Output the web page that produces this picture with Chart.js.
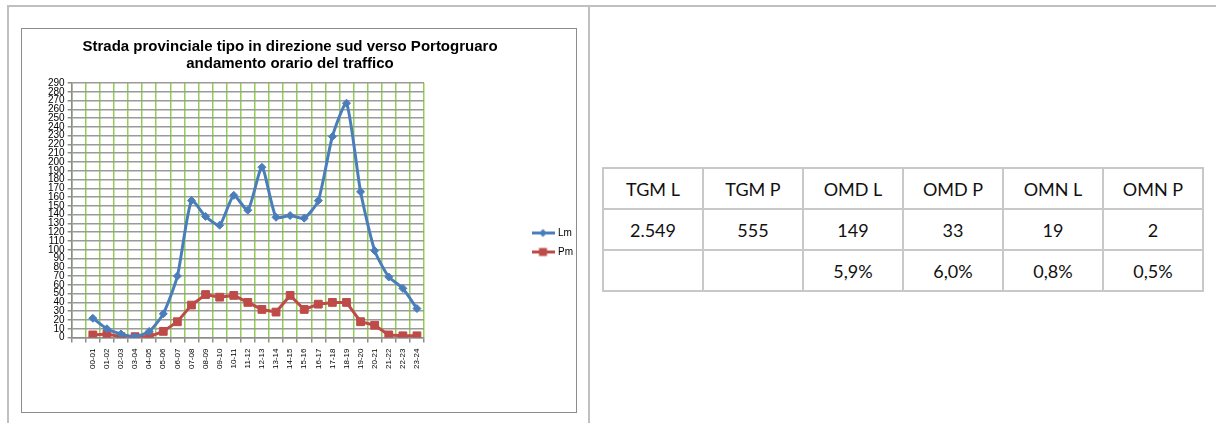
<!DOCTYPE html>
<html>
<head>
<meta charset="utf-8">
<script src="https://cdn.jsdelivr.net/npm/chart.js@4.4.1/dist/chart.umd.min.js"></script>
<style>
  html, body { margin: 0; padding: 0; background: #fff; }
  body { width: 1216px; height: 423px; position: relative; overflow: hidden; }
  .line-top { position: absolute; left: 7px; top: 5px; width: 1209px; height: 2px; background: #c0c0c0; }
  .line-left { position: absolute; left: 7px; top: 5px; width: 2px; height: 418px; background: #c0c0c0; }
  .line-mid { position: absolute; left: 588px; top: 5px; width: 2px; height: 418px; background: #c0c0c0; }
  .chart-box { position: absolute; left: 21px; top: 28px; width: 554px; height: 383px; border: 1px solid #8c8c8c; }
  #chart { display: block; }
  #stats { position: absolute; left: 602px; top: 167px; border-collapse: collapse; table-layout: fixed;
           font-family: Lato, "Open Sans", sans-serif; font-size: 18px; color: #111; }
  #stats td { width: 98px; height: 39px; border: 2px solid #c8c8c8; text-align: center; padding: 0; }
</style>
</head>
<body>
<div class="line-top"></div>
<div class="line-left"></div>
<div class="line-mid"></div>
<div class="chart-box"><canvas id="chart" width="554" height="383"></canvas></div>
<table id="stats"></table>
<script>
// fasce orarie (la prima categoria è vuota come nel grafico originale)
const hours = ['', '00-01', '01-02', '02-03', '03-04', '04-05', '05-06', '06-07', '07-08', '08-09',
  '09-10', '10-11', '11-12', '12-13', '13-14', '14-15', '15-16', '16-17', '17-18', '18-19',
  '19-20', '20-21', '21-22', '22-23', '23-24'];
const lmValues = [null, 22, 10, 4, 1, 7, 27, 70, 156, 138, 128, 162, 145, 194, 137, 139, 136, 156,
  229, 267, 166, 99, 69, 56, 33];
const pmValues = [null, 3, 4, 1, 1, 1, 7, 18, 37, 49, 46, 48, 40, 32, 29, 48, 32, 38,
  40, 40, 18, 14, 3, 2, 2];
const seriesNames = ['Lm', 'Pm'];
const yMin = 0, yMax = 290, yStep = 10;
const titleLines = ['Strada provinciale tipo in direzione sud verso Portogruaro', 'andamento orario del traffico'];

const tableHead = ['TGM L', 'TGM P', 'OMD L', 'OMD P', 'OMN L', 'OMN P'];
const tableValues = ['2.549', '555', '149', '33', '19', '2'];
const tablePerc = ['', '', '5,9%', '6,0%', '0,8%', '0,5%'];

const blue = '#4a7ebb';
const red = '#be4b48';
const font = "'Liberation Sans', Arial, sans-serif";

// tabella a destra
const stats = document.getElementById('stats');
[tableHead, tableValues, tablePerc].forEach(row => {
    const tr = document.createElement('tr');
    row.forEach(v => {
        const td = document.createElement('td');
        td.textContent = v;
        tr.appendChild(td);
    });
    stats.appendChild(tr);
});

// icone della legenda: linea con marcatore
function legendIcon(color, shape) {
    const c = document.createElement('canvas');
    c.width = 23; c.height = 11;
    const g = c.getContext('2d');
    g.strokeStyle = color;
    g.lineWidth = 3;
    g.beginPath(); g.moveTo(0, 5.5); g.lineTo(23, 5.5); g.stroke();
    g.fillStyle = color;
    if (shape === 'diamond') {
        g.beginPath(); g.moveTo(11.5, 1.5); g.lineTo(15.5, 5.5); g.lineTo(11.5, 9.5); g.lineTo(7.5, 5.5);
        g.closePath(); g.fill();
    } else {
        g.fillRect(7.5, 1.5, 8, 8);
    }
    return c;
}
const legendIcons = [legendIcon(blue, 'diamond'), legendIcon(red, 'square')];

// sposta legenda e titolo dove stanno nell'originale
const boxPlace = {
    id: 'boxPlace',
    afterLayout(chart) {
        const lg = chart.legend;
        const w = lg.width;
        lg.left = 502;
        lg.right = lg.left + w;
        lg.top = 190;
        lg.bottom = chart.height;

        const tb = chart.titleBlock;
        tb.left = 0;
        tb.right = chart.width - 18;
        tb.width = tb.right - tb.left;
    }
};

const ctx = document.getElementById('chart').getContext('2d');
new Chart(ctx, {
    type: 'line',
    data: {
        labels: hours,
        datasets: [{
            label: seriesNames[0],
            data: lmValues,
            borderColor: blue,
            backgroundColor: blue,
            borderWidth: 3,
            pointStyle: 'rectRot',
            pointRadius: 4,
            pointBorderWidth: 1,
            tension: 0.2
        }, {
            label: seriesNames[1],
            data: pmValues,
            borderColor: red,
            backgroundColor: red,
            borderWidth: 3,
            pointStyle: 'rect',
            pointRadius: 5.5,
            pointBorderWidth: 1,
            tension: 0
        }]
    },
    options: {
        responsive: false,
        animation: false,
        layout: { padding: { left: 23, right: 93, top: 0, bottom: 37 } },
        plugins: {
            title: {
                display: true,
                text: titleLines,
                color: '#000',
                font: { family: font, size: 15, weight: 'bold', lineHeight: 17 / 15 },
                padding: { top: 9.5, bottom: 10.5 }
            },
            legend: {
                position: 'right',
                align: 'start',
                labels: {
                    usePointStyle: true,
                    pointStyleWidth: 20,
                    padding: 9,
                    color: '#000',
                    font: { family: font, size: 10 },
                    generateLabels(chart) {
                        const items = Chart.defaults.plugins.legend.labels.generateLabels(chart);
                        items.forEach((it, i) => { it.pointStyle = legendIcons[i]; });
                        return items;
                    }
                }
            },
            tooltip: { enabled: false }
        },
        scales: {
            x: {
                offset: true,
                grid: { offset: true, color: '#92d050', lineWidth: 1.5, tickLength: 5, tickColor: '#8c8c8c' },
                border: { color: '#8c8c8c', width: 1.5 },
                ticks: {
                    autoSkip: false, maxRotation: 90, minRotation: 90, padding: 6,
                    color: '#000', font: { family: font, size: 8 }
                }
            },
            y: {
                min: yMin,
                max: yMax,
                grid: { color: '#9a9a9a', lineWidth: 1.5, tickLength: 4, tickColor: '#8c8c8c' },
                border: { color: '#8c8c8c', width: 1.5 },
                ticks: {
                    stepSize: yStep, autoSkip: false, padding: 3,
                    color: '#000', font: { family: font, size: 10 }
                }
            }
        }
    },
    plugins: [boxPlace]
});
</script>
</body>
</html>
